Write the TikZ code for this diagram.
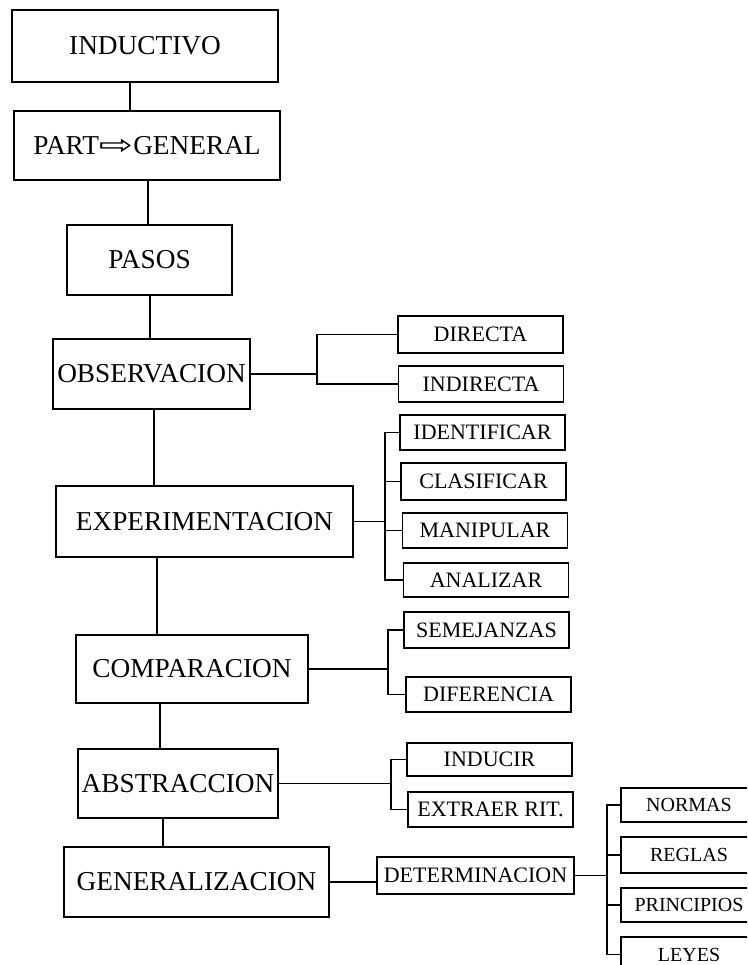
\documentclass[tikz,border=0pt]{standalone}
\usepackage{fontspec}
\setmainfont{Liberation Serif}
\newfontfamily\arrowfont{DejaVu Sans}
\begin{document}
\begin{tikzpicture}[x=1pt,y=-1pt,
  line width=1.1pt,
  bigbox/.style={draw,line width=1.1pt,inner sep=0pt,font=\fontsize{27.3}{30}\selectfont},
  smallbox/.style={draw,line width=1.1pt,inner sep=0pt,minimum width=165pt,font=\fontsize{22}{25}\selectfont},
  edgebox/.style={smallbox,minimum width=136pt,font=\fontsize{20}{23}\selectfont},
  conn/.style={line width=1.1pt}]
\useasboundingbox (0,0) rectangle (747,965);
\clip (0,0) rectangle (747,965);
% main column
\node[bigbox,minimum width=266pt,minimum height=72pt] (ind) at (145,46) {INDUCTIVO};
\node[bigbox,minimum width=266pt,minimum height=69pt] (part) at (147,145.5) {PART\scalebox{1.5}[1]{\arrowfont ⇨}GENERAL};
\node[bigbox,minimum width=165pt,minimum height=70pt] (pasos) at (149.5,260) {PASOS};
\node[bigbox,minimum width=197pt,minimum height=70pt] (obs) at (151.5,374) {OBSERVACION};
\node[bigbox,minimum width=297pt,minimum height=71pt] (exp) at (204.5,521.5) {EXPERIMENTACION};
\node[bigbox,minimum width=232pt,minimum height=68pt] (comp) at (192,669) {COMPARACION};
\node[bigbox,minimum width=200pt,minimum height=69pt] (abs) at (178,783.5) {ABSTRACCION};
\node[bigbox,minimum width=265pt,minimum height=70pt] (gen) at (196.5,882) {GENERALIZACION};
% vertical connectors
\coordinate (v1) at (130,0);
\coordinate (v2) at (148,0);
\coordinate (v3) at (150,0);
\coordinate (v4) at (154,0);
\coordinate (v5) at (157,0);
\coordinate (v6) at (160,0);
\coordinate (v7) at (163,0);
\draw[conn] (ind.south -| v1) -- (part.north -| v1);
\draw[conn] (part.south -| v2) -- (pasos.north -| v2);
\draw[conn] (pasos.south -| v3) -- (obs.north -| v3);
\draw[conn] (obs.south -| v4) -- (exp.north -| v4);
\draw[conn] (exp.south -| v5) -- (comp.north -| v5);
\draw[conn] (comp.south -| v6) -- (abs.north -| v6);
\draw[conn] (abs.south -| v7) -- (gen.north -| v7);
% small boxes
\node[smallbox,minimum height=37pt] (dir) at (480.5,334.5) {DIRECTA};
\node[smallbox,minimum height=36pt] (indir) at (481,384) {INDIRECTA};
\node[smallbox,minimum height=35pt] (iden) at (482.5,432.5) {IDENTIFICAR};
\node[smallbox,minimum height=37pt] (clas) at (483.5,481.5) {CLASIFICAR};
\node[smallbox,minimum height=35pt] (mani) at (485,530.5) {MANIPULAR};
\node[smallbox,minimum height=34pt] (anal) at (486,580) {ANALIZAR};
\node[smallbox,minimum height=36pt] (seme) at (486.5,630) {SEMEJANZAS};
\node[smallbox,minimum height=35pt] (dife) at (488.5,694.5) {DIFERENCIA};
\node[smallbox,minimum height=33pt] (indu) at (489.5,759.5) {INDUCIR};
\node[smallbox,minimum height=35pt] (extr) at (490.5,809.5) {EXTRAER RIT.};
\node[smallbox,minimum width=197pt,minimum height=37pt] (det) at (475.5,875.5) {DETERMINACION};
\node[edgebox,minimum height=34pt] (norm) at (689,805) {NORMAS};
\node[edgebox,minimum height=36pt] (regl) at (689,855) {REGLAS};
\node[edgebox,minimum height=34pt] (prin) at (689,905) {PRINCIPIOS};
\node[edgebox,minimum height=35pt] (leye) at (689,954.5) {LEYES};
% brackets
\coordinate (b1) at (317,0);
\draw[conn] (obs.east) -- (obs.east -| b1);
\draw[conn] (dir.west) -- (dir.west -| b1) -- (indir.west -| b1) -- (indir.west);
\coordinate (b2) at (385,0);
\draw[conn] (exp.east) -- (exp.east -| b2);
\draw[conn] (iden.west) -- (iden.west -| b2) -- (anal.west -| b2) -- (anal.west);
\draw[conn] (clas.west) -- (clas.west -| b2);
\draw[conn] (mani.west) -- (mani.west -| b2);
\coordinate (b3) at (388,0);
\draw[conn] (comp.east) -- (comp.east -| b3);
\draw[conn] (seme.west) -- (seme.west -| b3) -- (dife.west -| b3) -- (dife.west);
\coordinate (b4) at (391,0);
\draw[conn] (abs.east) -- (abs.east -| b4);
\draw[conn] (indu.west) -- (indu.west -| b4) -- (extr.west -| b4) -- (extr.west);
\draw[conn] (gen.east) -- (gen.east -| det.west);
\coordinate (b5) at (607,0);
\draw[conn] (det.east) -- (det.east -| b5);
\draw[conn] (norm.west) -- (norm.west -| b5) -- (leye.west -| b5) -- (leye.west);
\draw[conn] (regl.west) -- (regl.west -| b5);
\draw[conn] (prin.west) -- (prin.west -| b5);
\end{tikzpicture}
\end{document}
